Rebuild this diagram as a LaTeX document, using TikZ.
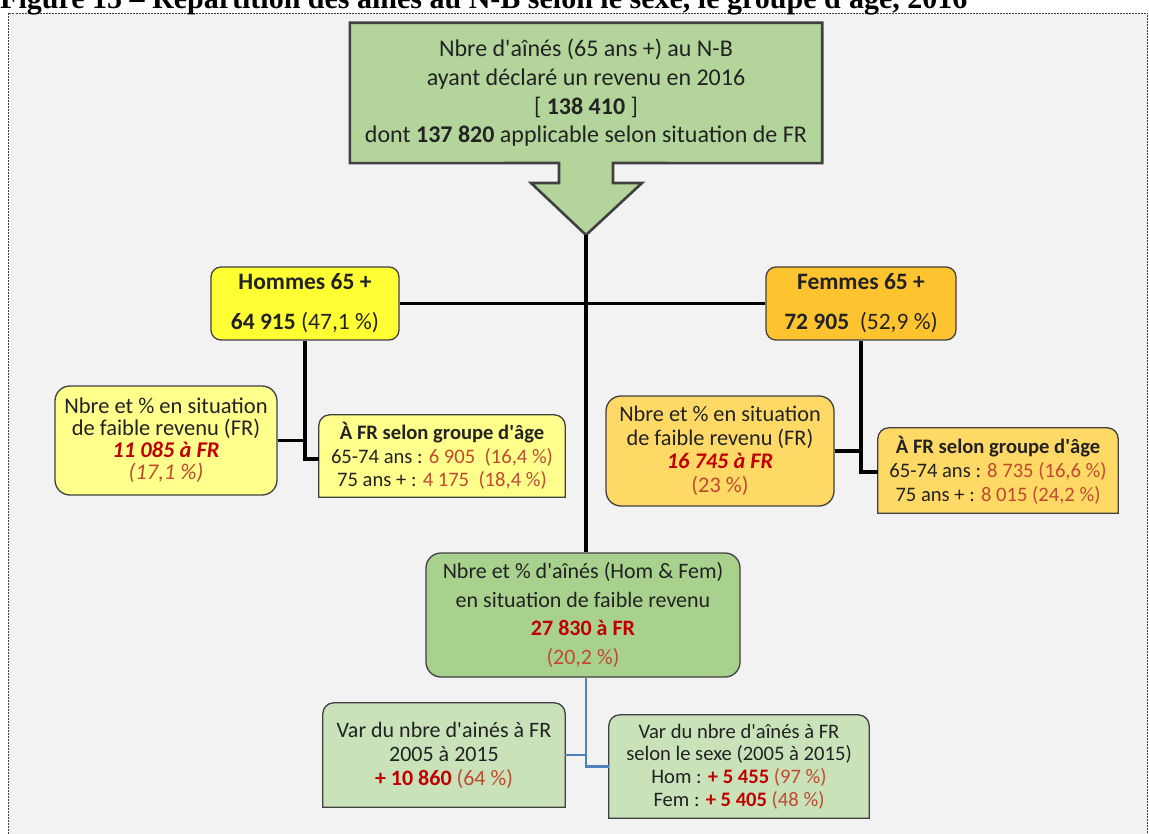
\documentclass[tikz,border=0pt]{standalone}
\usepackage{fontspec}
\usetikzlibrary{backgrounds}
\newfontfamily\calibri{Carlito}
\newfontfamily\timesbd{Liberation Serif}
\definecolor{bgc}{HTML}{F2F2F2}
\definecolor{txt}{HTML}{222222}
\definecolor{rd}{HTML}{C00000}
\definecolor{rb}{HTML}{BF4A30}
\definecolor{topg}{HTML}{B3D59C}
\definecolor{ceng}{HTML}{A9D18E}
\definecolor{lowg}{HTML}{C9E2B9}
\definecolor{homy}{HTML}{FFFF33}
\definecolor{paley}{HTML}{FFFF8C}
\definecolor{femo}{HTML}{FEC42F}
\definecolor{paleo}{HTML}{FFD966}
\definecolor{bord}{HTML}{404040}
\definecolor{bline}{HTML}{4F81BD}
\newcommand\fsz[2]{\fontsize{#1}{#2}\selectfont}
\tikzset{
  box/.style={inner sep=0pt, align=center, text=txt},
  rbox/.style={box, draw=bord, line width=1.3pt, rounded corners=#1},
  conn/.style={line width=3.2pt, black},
  bconn/.style={line width=2.2pt, bline},
  toprnd/.style={insert path={(#1.south west) -- ([yshift=-11pt]#1.north west)
     arc[start angle=180,end angle=90,radius=11pt] -- ([xshift=-11pt]#1.north east)
     arc[start angle=90,end angle=0,radius=11pt] -- (#1.south east) -- cycle}},
  tbox/.style={draw=bord, line width=1.3pt},
}
\begin{document}
\begin{tikzpicture}[x=1pt,y=-1pt]
\useasboundingbox (0,0) rectangle (1149,834);
\clip (0,0) rectangle (1149,834);

\node[anchor=base west, inner sep=0pt, font=\timesbd\bfseries\fsz{30}{30}] (title) at (0,9)
  {Figure 15 – Répartition des aînés au N-B selon le sexe, le groupe d'âge, 2016};

% top box with arrow
\node[box, minimum width=472pt, minimum height=140pt, font=\calibri\fsz{24}{28.7}] (top) at (586,93)
  {Nbre d'aînés (65 ans +) au N-B\\ayant déclaré un revenu en 2016\\{}[ \textbf{138 410} ]\\dont \textbf{137 820} applicable selon situation de FR};
\coordinate (tip) at (586,235);

% sex boxes
\node[rbox=10pt, fill=homy, minimum width=188pt, minimum height=73pt, font=\calibri\fsz{23.5}{40}] (hom) at (305,303.5)
  {\textbf{Hommes 65 +}\\\textbf{64 915} (47,1 \%)};
\node[rbox=10pt, fill=femo, minimum width=190pt, minimum height=73pt, font=\calibri\fsz{23.5}{40}] (fem) at (861,303.5)
  {\textbf{Femmes 65 +}\\\textbf{72 905}\ \ (52,9 \%)};

% low-income boxes
\node[rbox=15pt, fill=paley, minimum width=222pt, minimum height=109pt, font=\calibri\fsz{22.5}{22}] (nfl) at (166,440.5)
  {Nbre et \% en situation\\de faible revenu (FR)\\\textcolor{rd}{\textbf{\textit{11 085 à FR}}}\\\textcolor{rb}{\textit{(17,1 \%)}}};
\node[rbox=15pt, fill=paleo, minimum width=228pt, minimum height=110pt, font=\calibri\fsz{22.3}{23.5}] (nfr) at (720,451)
  {Nbre et \% en situation\\de faible revenu (FR)\\\textcolor{rd}{\textbf{\textit{16 745 à FR}}}\\\textcolor{rb}{(23 \%)}};

% age-group boxes (rounded top corners)
\node[box, minimum width=246pt, minimum height=82pt, font=\calibri\fsz{20.6}{23.5}] (afl) at (442,456)
  {\textbf{À FR selon groupe d'âge}\\65-74 ans : \textcolor{rb}{6 905\ \ (16,4 \%)}\\75 ans + : \textcolor{rb}{4 175\ \ (18,4 \%)}};
\node[box, minimum width=240pt, minimum height=85pt, font=\calibri\fsz{20.6}{24}] (afr) at (998,470.5)
  {\textbf{À FR selon groupe d'âge}\\65-74 ans : \textcolor{rb}{8 735 (16,6 \%)}\\75 ans + : \textcolor{rb}{8 015 (24,2 \%)}};

% central box
\node[rbox=15pt, fill=ceng, minimum width=314pt, minimum height=124pt, font=\calibri\fsz{22}{28.7}] (cen) at (583,615)
  {Nbre et \% d'aînés (Hom \& Fem)\\en situation de faible revenu\\\textcolor{rd}{\textbf{27 830 à FR}}\\\textcolor{rb}{(20,2 \%)}};

% variation boxes (rounded top corners)
\node[box, minimum width=242pt, minimum height=104pt, font=\calibri\fsz{22}{24}] (bvl) at (444,755)
  {Var du nbre d'ainés à FR\\2005 à 2015\\\textcolor{rd}{\textbf{+ 10 860}} \textcolor{rb}{(64 \%)}};
\node[box, minimum width=260pt, minimum height=103pt, font=\calibri\fsz{20.6}{22.7}] (bvr) at (739,766.5)
  {Var du nbre d'aînés à FR\\selon le sexe (2005 à 2015)\\Hom : \textcolor{rd}{\textbf{+ 5 455}} \textcolor{rb}{(97 \%)}\\Fem : \textcolor{rd}{\textbf{+ 5 405}} \textcolor{rb}{(48 \%)}};

\begin{pgfonlayer}{background}
  \fill[bgc] (8.5,13) rectangle (1147.5,834);
  \draw[black!75, line width=0.9pt, dash pattern=on 2pt off 1pt] (8.5,834) -- (8.5,13) -- (1147.5,13) -- (1147.5,834);
  \filldraw[fill=topg, draw=bord, line width=2.6pt, line join=miter]
    (top.north west) -- (top.north east) -- (top.south east) -- (613,163) -- (613,183) -- (642,183)
    -- (tip) -- (531,183) -- (559,183) -- (559,163) -- (top.south west) -- cycle;
  \filldraw[fill=paley, tbox, toprnd=afl];
  \filldraw[fill=paleo, tbox, toprnd=afr];
  \filldraw[fill=lowg, tbox, toprnd=bvl];
  \filldraw[fill=lowg, tbox, toprnd=bvr];
\end{pgfonlayer}

% connectors
\draw[conn] (tip) -- (tip |- cen.north);
\draw[conn] (hom.east) -- (fem.west);
\draw[conn] (hom.south) |- ([yshift=-3pt]afl.west);
\draw[conn] (nfl.east) -- (nfl.east -| hom.south);
\draw[conn] (fem.south) |- ([yshift=-1.5pt]afr.west);
\draw[conn] (nfr.east) -- (nfr.east -| fem.south);
\draw[bconn] (cen.south -| tip) |- (bvr.west);
\draw[bconn] (bvl.east) -- (bvl.east -| tip);
\end{tikzpicture}
\end{document}
